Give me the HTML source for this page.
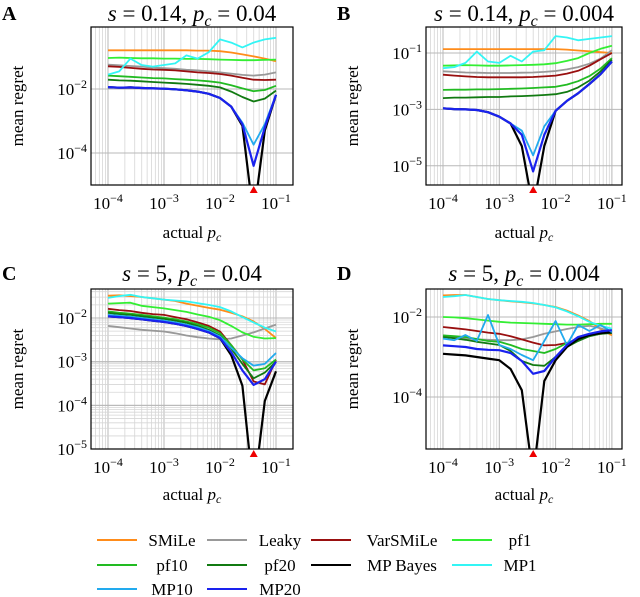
<!DOCTYPE html>
<html><head><meta charset="utf-8">
<style>
html,body{margin:0;padding:0;background:#fff;}
svg{display:block;font-family:"Liberation Serif",serif;}
</style></head>
<body>
<svg id="fig" width="640" height="597" viewBox="0 0 640 597" xmlns="http://www.w3.org/2000/svg"></svg>
<script>
// shared x grid: log10(actual p_c)
const logPc = [-4.0,-3.8,-3.6,-3.4,-3.2,-3.0,-2.8,-2.6,-2.4,-2.2,-2.0,-1.8,-1.6,-1.4,-1.2,-1.0];
const seriesNames = ["SMiLe","Leaky","VarSMiLe","pf1","pf10","pf20","MP Bayes","MP1","MP10","MP20"];
const seriesColors = {"SMiLe":"#ff8c1a","Leaky":"#999999","VarSMiLe":"#990f0f","pf1":"#33ee33","pf10":"#22bb22","pf20":"#117a11","MP Bayes":"#000000","MP1":"#33f5f5","MP10":"#22aaee","MP20":"#1a22ee"};
// log10(mean regret) values, panel A (s=0.14, pc=0.04)
const aSMiLe=[-0.79,-0.79,-0.79,-0.79,-0.79,-0.79,-0.79,-0.79,-0.80,-0.80,-0.82,-0.86,-0.92,-0.98,-1.05,-1.13];
const aLeaky=[-1.24,-1.26,-1.28,-1.30,-1.33,-1.35,-1.37,-1.40,-1.42,-1.45,-1.48,-1.52,-1.56,-1.58,-1.55,-1.48];
const aVarSMiLe=[-1.29,-1.31,-1.34,-1.37,-1.39,-1.40,-1.42,-1.45,-1.48,-1.50,-1.53,-1.58,-1.65,-1.71,-1.72,-1.71];
const aPf1=[-1.03,-1.02,-1.03,-1.04,-1.04,-1.05,-1.05,-1.06,-1.06,-1.07,-1.08,-1.09,-1.10,-1.10,-1.09,-1.08];
const aPf10=[-1.58,-1.60,-1.62,-1.64,-1.66,-1.67,-1.69,-1.71,-1.73,-1.76,-1.80,-1.88,-1.98,-2.07,-2.03,-1.90];
const aPf20=[-1.71,-1.73,-1.74,-1.76,-1.78,-1.80,-1.82,-1.84,-1.87,-1.90,-1.95,-2.08,-2.25,-2.39,-2.30,-2.05];
const aMPBayes=[-1.94,-1.96,-1.95,-1.97,-1.98,-1.99,-2.01,-2.04,-2.08,-2.15,-2.28,-2.55,-3.15,-6.00,-3.30,-2.18];
const aMP1=[-1.55,-1.45,-1.05,-1.25,-1.30,-1.25,-1.20,-0.95,-1.05,-0.85,-0.45,-0.55,-0.70,-0.55,-0.45,-0.40];
const aMP10=[-1.94,-1.96,-1.95,-1.97,-1.98,-1.99,-2.01,-2.04,-2.08,-2.15,-2.28,-2.55,-3.05,-3.74,-3.10,-2.18];
const aMP20=[-1.94,-1.96,-1.95,-1.97,-1.98,-1.99,-2.01,-2.04,-2.08,-2.15,-2.28,-2.55,-3.10,-4.40,-3.20,-2.18];
// panel B (s=0.14, pc=0.004)
const bSMiLe=[-0.86,-0.86,-0.86,-0.86,-0.86,-0.86,-0.86,-0.86,-0.86,-0.86,-0.86,-0.88,-0.91,-0.94,-0.97,-1.00];
const bLeaky=[-1.65,-1.67,-1.69,-1.70,-1.71,-1.71,-1.71,-1.70,-1.69,-1.67,-1.64,-1.58,-1.50,-1.38,-1.20,-0.90];
const bVarSMiLe=[-1.77,-1.80,-1.83,-1.85,-1.86,-1.86,-1.86,-1.86,-1.85,-1.83,-1.80,-1.73,-1.63,-1.45,-1.22,-1.00];
const bPf1=[-1.45,-1.44,-1.43,-1.44,-1.45,-1.45,-1.44,-1.43,-1.42,-1.40,-1.36,-1.28,-1.18,-1.00,-0.85,-0.74];
const bPf10=[-2.31,-2.30,-2.30,-2.29,-2.29,-2.28,-2.27,-2.26,-2.24,-2.22,-2.20,-2.12,-2.00,-1.82,-1.55,-1.18];
const bPf20=[-2.60,-2.58,-2.58,-2.57,-2.56,-2.56,-2.54,-2.53,-2.51,-2.49,-2.46,-2.38,-2.22,-1.98,-1.65,-1.24];
const bMPBayes=[-2.96,-2.99,-3.00,-3.02,-3.10,-3.26,-3.50,-4.30,-6.50,-4.30,-3.05,-2.70,-2.43,-2.10,-1.75,-1.30];
const bMP1=[-1.54,-1.50,-1.35,-0.95,-1.30,-1.35,-1.10,-1.30,-0.95,-0.90,-0.40,-0.45,-0.55,-0.50,-0.45,-0.40];
const bMP10=[-2.96,-2.99,-3.00,-3.02,-3.10,-3.26,-3.50,-3.75,-4.63,-3.60,-3.05,-2.70,-2.43,-2.10,-1.75,-1.30];
const bMP20=[-2.96,-2.99,-3.00,-3.02,-3.10,-3.26,-3.50,-3.90,-5.20,-3.90,-3.05,-2.70,-2.43,-2.10,-1.75,-1.30];
// panel C (s=5, pc=0.04)
const cSMiLe=[-1.49,-1.48,-1.50,-1.52,-1.55,-1.58,-1.61,-1.67,-1.72,-1.77,-1.81,-1.88,-1.96,-2.08,-2.25,-2.46];
const cLeaky=[-2.18,-2.21,-2.24,-2.27,-2.29,-2.31,-2.35,-2.40,-2.44,-2.47,-2.49,-2.47,-2.40,-2.33,-2.24,-2.15];
const cVarSMiLe=[-1.79,-1.82,-1.84,-1.88,-1.91,-1.93,-1.98,-2.03,-2.10,-2.18,-2.31,-2.62,-2.95,-3.45,-3.52,-2.96];
const cPf1=[-1.67,-1.66,-1.65,-1.72,-1.75,-1.78,-1.82,-1.86,-1.92,-1.97,-2.05,-2.18,-2.33,-2.43,-2.47,-2.46];
const cPf10=[-1.85,-1.88,-1.90,-1.93,-1.96,-1.99,-2.03,-2.08,-2.14,-2.22,-2.35,-2.62,-2.95,-3.20,-3.15,-2.95];
const cPf20=[-1.88,-1.91,-1.93,-1.96,-1.99,-2.02,-2.06,-2.11,-2.18,-2.27,-2.40,-2.70,-3.05,-3.38,-3.25,-3.00];
const cMPBayes=[-1.96,-1.98,-2.00,-2.03,-2.06,-2.09,-2.13,-2.18,-2.25,-2.33,-2.46,-2.85,-3.55,-6.00,-3.90,-3.22];
const cMP1=[-1.54,-1.50,-1.47,-1.52,-1.55,-1.58,-1.60,-1.62,-1.66,-1.70,-1.75,-1.85,-1.98,-2.10,-2.22,-2.31];
const cMP10=[-1.93,-1.95,-1.97,-2.00,-2.03,-2.06,-2.10,-2.15,-2.21,-2.30,-2.42,-2.68,-2.92,-3.09,-3.05,-2.80];
const cMP20=[-1.96,-1.98,-2.00,-2.03,-2.06,-2.09,-2.13,-2.18,-2.25,-2.33,-2.46,-2.78,-3.20,-3.53,-3.40,-3.00];
// panel D (s=5, pc=0.004)
const dSMiLe=[-1.46,-1.45,-1.45,-1.50,-1.55,-1.58,-1.61,-1.63,-1.66,-1.70,-1.75,-1.84,-1.96,-2.10,-2.30,-2.46];
const dLeaky=[-2.46,-2.50,-2.53,-2.56,-2.57,-2.58,-2.58,-2.56,-2.50,-2.42,-2.36,-2.30,-2.25,-2.22,-2.28,-2.38];
const dVarSMiLe=[-2.25,-2.28,-2.31,-2.35,-2.39,-2.42,-2.48,-2.56,-2.64,-2.71,-2.70,-2.65,-2.55,-2.47,-2.42,-2.38];
const dPf1=[-2.00,-2.01,-2.03,-2.06,-2.09,-2.12,-2.14,-2.15,-2.16,-2.17,-2.18,-2.19,-2.19,-2.18,-2.17,-2.17];
const dPf10=[-2.46,-2.48,-2.50,-2.55,-2.60,-2.62,-2.70,-2.80,-2.85,-2.90,-2.80,-2.65,-2.55,-2.45,-2.40,-2.38];
const dPf20=[-2.50,-2.53,-2.57,-2.62,-2.66,-2.70,-2.85,-3.10,-3.20,-3.22,-3.00,-2.75,-2.60,-2.48,-2.42,-2.40];
const dMPBayes=[-2.92,-2.94,-2.96,-3.00,-3.04,-3.08,-3.30,-3.83,-6.00,-3.60,-3.08,-2.75,-2.55,-2.45,-2.40,-2.38];
const dMP1=[-1.50,-1.48,-1.45,-1.50,-1.55,-1.58,-1.60,-1.62,-1.65,-1.70,-1.76,-1.86,-1.98,-2.12,-2.22,-2.29];
const dMP10=[-2.54,-2.58,-2.45,-2.60,-1.95,-2.70,-2.80,-2.95,-3.08,-2.60,-2.10,-2.70,-2.20,-2.35,-2.20,-2.38];
const dMP20=[-2.71,-2.73,-2.75,-2.80,-2.82,-2.83,-2.90,-3.10,-3.42,-3.35,-3.00,-2.70,-2.50,-2.42,-2.36,-2.33];
// axis tick labels
const xTickExps=[-4,-3,-2,-1];
const trueLogPc=[-1.398,-2.398,-1.398,-2.398];
const panelLetters=["A","B","C","D"];
const panelS=["0.14","0.14","5","5"];
const panelPc=["0.04","0.004","0.04","0.004"];
const yTickA=[-2,-4], yTickB=[-1,-3,-5], yTickC=[-2,-3,-4,-5], yTickD=[-2,-4];

const NS="http://www.w3.org/2000/svg";
const svg=document.getElementById('fig');
function mk(tag,attrs,parent){const e=document.createElementNS(NS,tag);for(const k in attrs)e.setAttribute(k,attrs[k]);(parent||svg).appendChild(e);return e;}

const panels=[
 {id:"a",bx0:91,bx1:293,by0:27,by1:185,x4:108,xd:56,yr:-2,yp:89,yd:32,yt:yTickA,minorY:false,data:[aSMiLe,aLeaky,aVarSMiLe,aPf1,aPf10,aPf20,aMPBayes,aMP1,aMP10,aMP20],lx:10,ty:13,xl:238},
 {id:"b",bx0:426,bx1:622,by0:27,by1:185,x4:443,xd:56.3,yr:-1,yp:53,yd:28.2,yt:yTickB,minorY:false,data:[bSMiLe,bLeaky,bVarSMiLe,bPf1,bPf10,bPf20,bMPBayes,bMP1,bMP10,bMP20],lx:345,ty:13,xl:238},
 {id:"c",bx0:91,bx1:293,by0:289,by1:449,x4:108,xd:56,yr:-2,yp:318,yd:43.7,yt:yTickC,minorY:true,data:[cSMiLe,cLeaky,cVarSMiLe,cPf1,cPf10,cPf20,cMPBayes,cMP1,cMP10,cMP20],lx:10,ty:273,xl:500},
 {id:"d",bx0:426,bx1:622,by0:289,by1:449,x4:443,xd:56.3,yr:-2,yp:317,yd:40,yt:yTickD,minorY:false,data:[dSMiLe,dLeaky,dVarSMiLe,dPf1,dPf10,dPf20,dMPBayes,dMP1,dMP10,dMP20],lx:345,ty:273,xl:500}
];

panels.forEach((p,pi)=>{
  const X=v=>p.x4+(v+4)*p.xd;
  const Y=v=>p.yp-(v-p.yr)*p.yd;
  const g=mk('g',{});
  
  
  const cp=mk('clipPath',{id:'clip'+p.id},g);
  mk('rect',{x:p.bx0,y:p.by0,width:p.bx1-p.bx0,height:p.by1-p.by0},cp);
  const grid=mk('g',{'clip-path':'url(#clip'+p.id+')'},g);
  
  
  for(let d=-5;d<=0;d++){for(let m=1;m<10;m++){const x=X(d+Math.log10(m));if(x<p.bx0||x>p.bx1)continue;
    mk('line',{x1:x,x2:x,y1:p.by0,y2:p.by1,stroke:m===1?'#b8b8b8':'#d6d6d6','stroke-width':m===1?1:0.8},grid);}}
  for(let d=-8;d<=1;d++){
    if(p.minorY){for(let m=2;m<10;m++){const y=Y(d+Math.log10(m));if(y<p.by0||y>p.by1)continue;mk('line',{x1:p.bx0,x2:p.bx1,y1:y,y2:y,stroke:'#d6d6d6','stroke-width':0.8},grid);}
      const y=Y(d);if(y>=p.by0&&y<=p.by1)mk('line',{x1:p.bx0,x2:p.bx1,y1:y,y2:y,stroke:'#b8b8b8','stroke-width':1},grid);}
  }
  p.yt.forEach(t=>{const y=Y(t);mk('line',{x1:p.bx0,x2:p.bx1,y1:y,y2:y,stroke:'#b8b8b8','stroke-width':1},grid);});
  const lines=mk('g',{'clip-path':'url(#clip'+p.id+')'},g);
  p.data.forEach((arr,si)=>{
    const name=seriesNames[si];
    const pts=arr.map((v,i)=>X(logPc[i]).toFixed(1)+','+Y(v).toFixed(1)).join(' ');
    const pl=mk('polyline',{points:pts,fill:'none',stroke:seriesColors[name],'stroke-width':name==='MP20'||name==='MP Bayes'?2.2:1.8,'stroke-linejoin':'round'},lines);
    
    
  });
  const box=mk('rect',{x:p.bx0,y:p.by0,width:p.bx1-p.bx0,height:p.by1-p.by0,fill:'none',stroke:'#000','stroke-width':1.2},g);
  
  
  xTickExps.forEach(e=>{const t=mk('text',{x:X(e),y:p.by1+24,'text-anchor':'middle','font-size':17},g);
    
    
    t.appendChild(document.createTextNode('10'));const s=mk('tspan',{dy:-7,'font-size':12},t);s.textContent='−'+(-e);});
  p.yt.forEach(e=>{const t=mk('text',{x:p.bx0-4,y:Y(e)+6,'text-anchor':'end','font-size':17},g);
    
    
    t.appendChild(document.createTextNode('10'));const s=mk('tspan',{dy:-7,'font-size':12},t);s.textContent='−'+(-e);});
  const tx=X(trueLogPc[pi]);
  const tri=mk('polygon',{points:(tx-4)+','+(p.by1+8)+' '+(tx+4)+','+(p.by1+8)+' '+tx+','+(p.by1+1),fill:'#ee0000'},g);
  
  
  const yl=mk('text',{x:0,y:0,transform:'translate('+(p.bx0-68)+','+((p.by0+p.by1)/2)+') rotate(-90)','text-anchor':'middle','font-size':17},g);
  yl.textContent='mean regret';
  
  
  const xl=mk('text',{x:(p.bx0+p.bx1)/2,y:p.xl,'text-anchor':'middle','font-size':17},g);
  
  
  xl.appendChild(document.createTextNode('actual '));
  const pi1=mk('tspan',{'font-style':'italic'},xl);pi1.textContent='p';
  const pi2=mk('tspan',{'font-style':'italic','font-size':12,dy:3},xl);pi2.textContent='c';
  const L=mk('text',{x:p.lx-8,y:p.ty+7,'font-size':20,'font-weight':'bold'},g);L.textContent=panelLetters[pi];
  
  
  const T=mk('text',{x:(p.bx0+p.bx1)/2,y:p.ty+8,'text-anchor':'middle','font-size':23},g);
  
  
  const a1=mk('tspan',{'font-style':'italic'},T);a1.textContent='s';
  const a2=mk('tspan',{},T);a2.textContent=' = '+panelS[pi]+', ';
  const a3=mk('tspan',{'font-style':'italic'},T);a3.textContent='p';
  const a4=mk('tspan',{'font-style':'italic','font-size':16,dy:5},T);a4.textContent='c';
  const a5=mk('tspan',{dy:-5},T);a5.textContent=' = '+panelPc[pi];
});

// legend
const legendLineX=[97,207,311,452];
const legendTextX=[172,280,402,520];
const legendRows=[540,565,589];
const lg=mk('g',{});


seriesNames.forEach((name,i)=>{
  const col=i%4,row=Math.floor(i/4);
  const e=mk('g',{},lg);
  
  
  const x=legendLineX[col];
  mk('line',{x1:x,x2:x+40,y1:legendRows[row],y2:legendRows[row],stroke:seriesColors[name],'stroke-width':2},e);
  const t=mk('text',{x:legendTextX[col],y:legendRows[row]+6,'text-anchor':'middle','font-size':17},e);
  t.textContent=name;
});
</script>
</body></html>
